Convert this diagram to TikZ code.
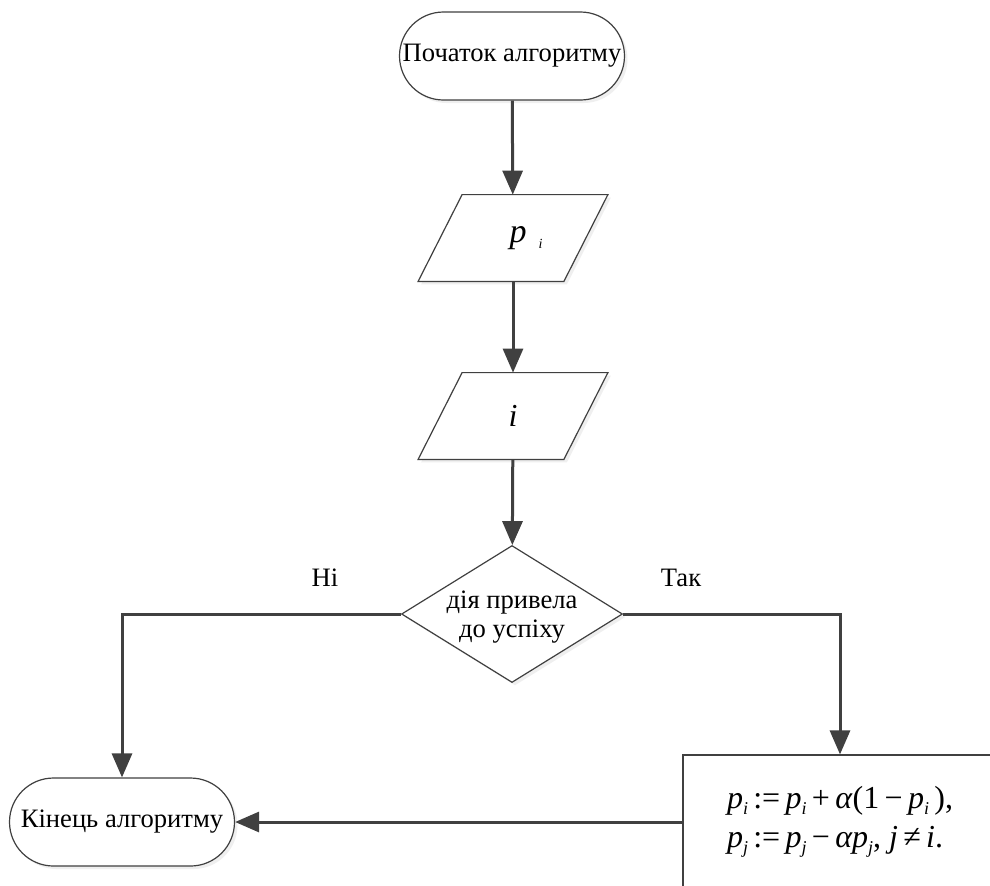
\documentclass[tikz,border=0pt]{standalone}
\usepackage{fontspec}
\setmainfont{Liberation Serif}
\usetikzlibrary{shapes.geometric,shapes.misc,arrows.meta,shadows,calc,backgrounds}
\definecolor{ln}{HTML}{404040}
\newcommand\sbs[1]{\raisebox{-3pt}{\fontsize{9}{10}\selectfont\textit{#1}}}
\begin{document}
\begin{tikzpicture}[x=0.5pt,y=-0.5pt,
  every node/.style={font=\fontsize{13.3}{15}\selectfont, text=black},
  shp/.style={draw=ln, line width=0.6pt, fill=white, drop shadow={opacity=0.12, shadow xshift=1.5pt, shadow yshift=-1.5pt}},
  term/.style={shp, rounded rectangle, minimum width=112.5pt, minimum height=44pt, inner sep=0pt},
  io/.style={rectangle, minimum width=72.5pt, minimum height=43pt, inner sep=0pt},
  dec/.style={shp, diamond, minimum width=110.5pt, minimum height=68.5pt, inner sep=0pt},
  dectext/.style={align=center, inner sep=0pt, font=\fontsize{13.3}{14.5}\selectfont},
  proc/.style={shp, rectangle, minimum width=157pt, minimum height=67pt, inner sep=0pt, align=left, font=\fontsize{16}{19.5}\selectfont},
  flow/.style={draw=ln, line width=1.5pt, -{Triangle[length=12pt,width=10pt]}}
]
\clip (0,0) rectangle (990,885);

\node[term] (start) at (512,56) {Початок алгоритму};
\node[io] (in1) at (513,238) {\hspace*{13pt}{\fontsize{17}{18}\selectfont\textit{p}}\hspace{6pt}\raisebox{-3pt}{\fontsize{7}{8}\selectfont\textit{i}}};
\node[io] (in2) at (513,416) {\fontsize{16}{18}\selectfont\textit{i}};
\node[dec] (cond) at (512,614) {};
\node[dectext] (condtext) at (512,617) {дія привела\\до успіху};
\node[proc] (upd) at (840,822) {\textit{p}\sbs{i}\,:=\,\textit{p}\sbs{i}\,+\,\textit{α}(1\,−\,\textit{p}\sbs{i}\,),\\\textit{p}\sbs{j}\,:=\,\textit{p}\sbs{j}\,−\,\textit{αp}\sbs{j}, \textit{j}\,≠\,\textit{i}.};
\node[term] (stop) at (122,822) {Кінець алгоритму};

\begin{scope}[on background layer]
\fill[white] (0,0) rectangle (990,885);
\foreach \n in {in1,in2}{
  \draw[shp] ($(\n.north west)+(22,0)$) -- ($(\n.north east)+(22,0)$) -- ($(\n.south east)+(-22,0)$) -- ($(\n.south west)+(-22,0)$) -- cycle;
}
\end{scope}

\node (no) at (325,578) {Ні};
\node (yes) at (681,578) {Так};

\draw[flow] (start) -- (in1);
\draw[flow] (in1) -- (in2);
\draw[flow] (in2) -- (cond);
\draw[flow] (cond.west) -| (stop.north);
\draw[flow] (cond.east) -| (upd.north);
\draw[flow] (upd.west) -- (stop.east);
\end{tikzpicture}
\end{document}
